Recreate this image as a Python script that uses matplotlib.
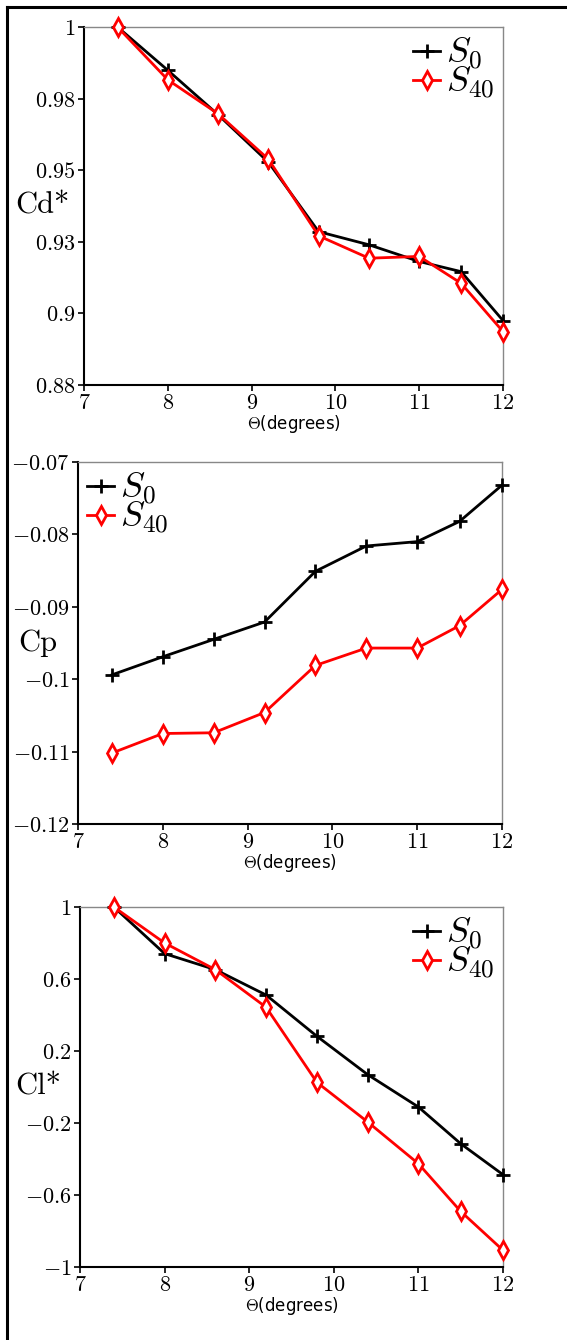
import matplotlib
matplotlib.use("Agg")
import matplotlib.pyplot as plt
import numpy as np
from matplotlib.lines import Line2D
from matplotlib.ticker import FixedLocator, FuncFormatter

plt.rcParams['mathtext.fontset'] = 'cm'

theta = [7.4, 8.0, 8.6, 9.2, 9.8, 10.4, 11.0, 11.5, 12.0]

cd_s0 = [1.0, 0.9855, 0.9706, 0.9547, 0.9314, 0.9270, 0.9214, 0.9180, 0.9016]
cd_s40 = [1.0, 0.9823, 0.9709, 0.9557, 0.9300, 0.9225, 0.9231, 0.9141, 0.8979]

cp_s0 = [-0.0994, -0.0969, -0.0945, -0.0921, -0.0851, -0.0816, -0.0810, -0.0782, -0.0732]
cp_s40 = [-0.1102, -0.1075, -0.1074, -0.1046, -0.0981, -0.0957, -0.0957, -0.0926, -0.0876]

cl_s0 = [1.0, 0.741, 0.652, 0.511, 0.282, 0.069, -0.111, -0.315, -0.487]
cl_s40 = [1.0, 0.800, 0.652, 0.443, 0.026, -0.194, -0.426, -0.691, -0.907]

x_ticks = [7, 8, 9, 10, 11, 12]
cd_ticks = np.linspace(0.88, 1.0, 6)
cp_ticks = np.linspace(-0.12, -0.07, 6)
cl_ticks = np.linspace(-1.0, 1.0, 6)

W, H = 567, 1340
fig = plt.figure(figsize=(W / 100, H / 100), dpi=100)

# axes boxes in pixels: left, right, top, bottom
boxes = [(84, 503, 27, 385), (78, 502, 462, 824), (80, 503, 907, 1267)]
panels = [
    (cd_s0, cd_s40, cd_ticks, (0.88, 1.0), "Cd*", "upper right", 42),
    (cp_s0, cp_s40, cp_ticks, (-0.12, -0.07), "Cp", "upper left", 38),
    (cl_s0, cl_s40, cl_ticks, (-1.0, 1.0), "Cl*", "upper right", 38),
]


def fmt(v, pos):
    s = "%.2g" % v
    return "$%s$" % s


for (l, r, t, b), (s0, s40, yt, ylim, ylab, loc, labx) in zip(boxes, panels):
    ax = fig.add_axes([l / W, 1 - b / H, (r - l) / W, (b - t) / H])
    ax.plot(theta, s0, color='black', lw=2, marker='+', ms=10, mew=2,
            label=r'$S_0$', clip_on=False, zorder=3)
    ax.plot(theta, s40, color='red', lw=2, marker='d', ms=9, mew=2,
            mfc='white', label=r'$S_{40}$', clip_on=False, zorder=3)
    ax.set_xlim(7, 12)
    ax.set_ylim(*ylim)
    ax.xaxis.set_major_locator(FixedLocator(x_ticks))
    ax.xaxis.set_major_formatter(FuncFormatter(lambda v, p: "$%d$" % v))
    ax.yaxis.set_major_locator(FixedLocator(yt))
    ax.yaxis.set_major_formatter(FuncFormatter(fmt))
    ax.tick_params(labelsize=16, direction='out', length=4, width=1.2,
                   top=False, right=False, pad=2)
    for side in ['left', 'bottom']:
        ax.spines[side].set_linewidth(1.5)
        ax.spines[side].set_color('black')
    for side in ['top', 'right']:
        ax.spines[side].set_linewidth(1.0)
        ax.spines[side].set_color('#888888')
    ax.set_xlabel(r'$\Theta$(degrees)', fontsize=12, labelpad=0)
    ax.xaxis.label.set_family('DejaVu Sans')
    ax.set_ylabel(ylab, fontsize=22, rotation=0, fontname='cmr10',
                  ha='center', va='center')
    ax.yaxis.set_label_coords((labx - l) / (r - l), 0.5)
    ax.legend(loc=loc, fontsize=26, frameon=False, handlelength=0.75,
              handletextpad=0.15, labelspacing=-0.2, borderaxespad=0.05,
              borderpad=0.2)

# outer frame on the left and top
fig.add_artist(Line2D([7 / W, 7 / W], [0, 1 - 7 / H], transform=fig.transFigure,
                      color='black', lw=2.2))
fig.add_artist(Line2D([7 / W, 1], [1 - 7 / H, 1 - 7 / H], transform=fig.transFigure,
                      color='black', lw=2.2))

fig.savefig("out.png", dpi=100)
